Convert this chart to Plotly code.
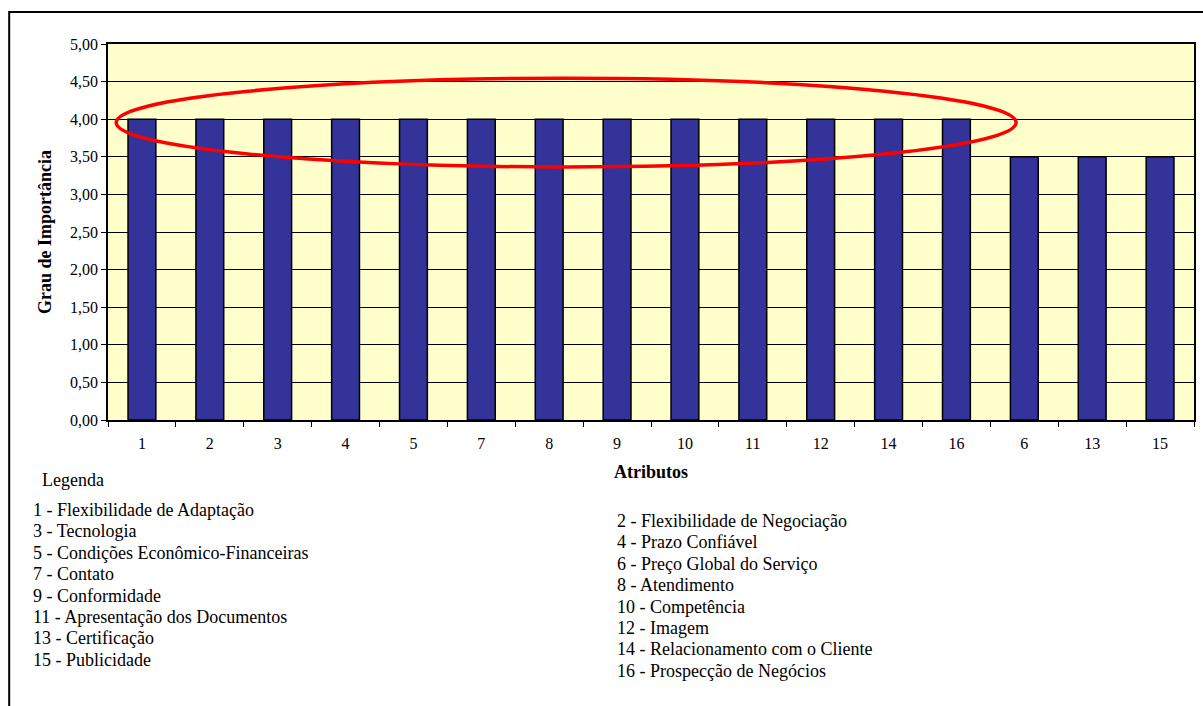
import plotly.graph_objects as go

# Atributos em ordem decrescente de importância
atributos = ["1", "2", "3", "4", "5", "7", "8", "9", "10", "11", "12", "14", "16", "6", "13", "15"]
grau = [4.0, 4.0, 4.0, 4.0, 4.0, 4.0, 4.0, 4.0, 4.0, 4.0, 4.0, 4.0, 4.0, 3.5, 3.5, 3.5]
y_ticks = [0.0, 0.5, 1.0, 1.5, 2.0, 2.5, 3.0, 3.5, 4.0, 4.5, 5.0]
y_tick_text = ["0,00", "0,50", "1,00", "1,50", "2,00", "2,50", "3,00", "3,50", "4,00", "4,50", "5,00"]

legenda_esq = [
    "1 - Flexibilidade de Adaptação",
    "3 - Tecnologia",
    "5 - Condições Econômico-Financeiras",
    "7 - Contato",
    "9 - Conformidade",
    "11 - Apresentação dos Documentos",
    "13 - Certificação",
    "15 - Publicidade",
]
legenda_dir = [
    "2 - Flexibilidade de Negociação",
    "4 - Prazo Confiável",
    "6 - Preço Global do Serviço",
    "8 - Atendimento",
    "10 - Competência",
    "12 - Imagem",
    "14 - Relacionamento com o Cliente",
    "16 - Prospecção de Negócios",
]

W, H = 1203, 706
L, R, T, B = 108, 7, 44, 286
PW, PH = W - L - R, H - T - B
SERIF = "Liberation Serif"


def px_x(px):
    return (px - L) / PW


def px_y(py):
    return (H - B - py) / PH


fig = go.Figure()
fig.add_trace(go.Bar(
    x=atributos,
    y=grau,
    width=0.41,
    marker=dict(color="#333399", line=dict(color="#000000", width=1.5)),
    showlegend=False,
))

annotations = [
    dict(text="Legenda", x=px_x(40), y=px_y(480), xref="paper", yref="paper",
         xanchor="left", yanchor="middle", showarrow=False,
         font=dict(family=SERIF, size=18, color="#000")),
]
for i, t in enumerate(legenda_esq):
    annotations.append(dict(text=t, x=px_x(31), y=px_y(510 + i * 21.4), xref="paper", yref="paper",
                            xanchor="left", yanchor="middle", showarrow=False,
                            font=dict(family=SERIF, size=18, color="#000")))
for i, t in enumerate(legenda_dir):
    annotations.append(dict(text=t, x=px_x(616), y=px_y(521 + i * 21.4), xref="paper", yref="paper",
                            xanchor="left", yanchor="middle", showarrow=False,
                            font=dict(family=SERIF, size=18, color="#000")))

shapes = [
    # moldura externa
    dict(type="rect", xref="paper", yref="paper",
         x0=px_x(9), x1=px_x(1210), y0=px_y(720), y1=px_y(12),
         line=dict(color="#000", width=2), fillcolor="rgba(0,0,0,0)", layer="below"),
    # destaque dos atributos com grau 4,00
    dict(type="circle", xref="x", yref="y",
         x0=-0.38, x1=12.88, y0=3.365, y1=4.545,
         line=dict(color="#FF0000", width=3.5), fillcolor="rgba(0,0,0,0)"),
]

fig.update_layout(
    width=W, height=H,
    margin=dict(l=L, r=R, t=T, b=B),
    paper_bgcolor="#FFFFFF",
    plot_bgcolor="#FFFFCC",
    font=dict(family=SERIF, color="#000"),
    bargap=0.59,
    annotations=annotations,
    shapes=shapes,
)
fig.update_xaxes(
    type="category",
    categoryorder="array", categoryarray=atributos,
    tickson="boundaries", ticks="outside", ticklen=5, tickcolor="#000",
    ticklabelstandoff=8,
    showline=True, linecolor="#000", linewidth=1.5, mirror=True,
    showgrid=False,
    tickfont=dict(family=SERIF, size=16, color="#000"),
    title=dict(text="<b>Atributos</b>", font=dict(family=SERIF, size=18, color="#000"), standoff=14),
)
fig.update_yaxes(
    range=[0, 5],
    tickvals=y_ticks, ticktext=y_tick_text,
    ticks="outside", ticklen=5, tickcolor="#000",
    showline=True, linecolor="#000", linewidth=1.5, mirror=True,
    showgrid=True, gridcolor="#000", gridwidth=1,
    zeroline=False,
    tickfont=dict(family=SERIF, size=16, color="#000"),
    title=dict(text="<b>Grau de Importância</b>", font=dict(family=SERIF, size=18, color="#000"), standoff=14),
)

fig.write_html("out.html")
